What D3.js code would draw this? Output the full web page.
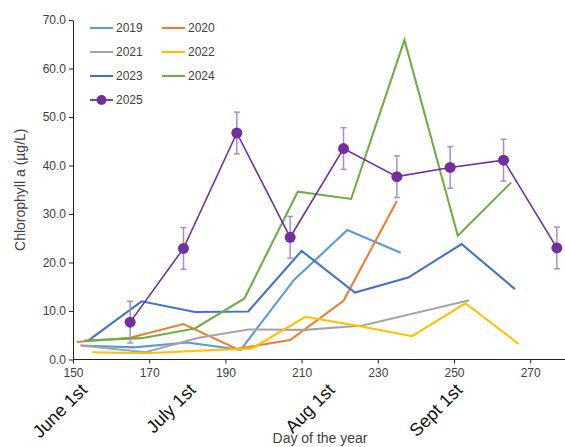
<!DOCTYPE html>
<html>
<head>
<meta charset="utf-8">
<script src="https://cdn.jsdelivr.net/npm/d3@7"></script>
<style>
  html, body { margin: 0; padding: 0; background: #fff; }
  svg { display: block; font-family: "Liberation Sans", Arial, sans-serif; }
</style>
</head>
<body>
<svg id="chart" width="565" height="447"></svg>
<script>
// ---- data (day of year, chlorophyll a µg/L) ----
const years = ["2019", "2020", "2021", "2022", "2023", "2024", "2025"];
const colors = ["#5B9BD5", "#ED7D31", "#A5A5A5", "#FFC000", "#4472C4", "#70AD47", "#7030A0"];

const days2019 = [152, 166, 180, 194, 208, 222, 236];
const vals2019 = [2.9, 2.5, 3.5, 2.0, 16.4, 26.7, 22.0];

const days2020 = [151, 165, 179, 193, 207, 221, 235];
const vals2020 = [3.6, 4.5, 7.3, 2.2, 4.0, 12.1, 32.7];

const days2021 = [152, 169, 183, 196, 211, 226, 254];
const vals2021 = [2.9, 1.5, 4.5, 6.2, 6.1, 7.0, 12.2];

const days2022 = [155, 169, 183, 197, 211, 225, 239, 253, 267];
const vals2022 = [1.5, 1.3, 1.8, 2.3, 8.8, 6.9, 4.8, 11.6, 3.2];

const days2023 = [154, 168, 182, 196, 210, 224, 238, 252, 266];
const vals2023 = [3.9, 12.0, 9.8, 9.9, 22.4, 13.8, 16.9, 23.8, 14.5];

const days2024 = [153, 168, 182, 195, 209, 223, 237, 251, 265];
const vals2024 = [3.9, 4.4, 6.4, 12.6, 34.6, 33.1, 65.9, 25.5, 36.5];

const days2025 = [165, 179, 193, 207, 221, 235, 249, 263, 277];
const vals2025 = [7.7, 22.9, 46.7, 25.2, 43.5, 37.7, 39.6, 41.1, 23.0];
const err2025  = [4.3, 4.3, 4.3, 4.3, 4.3, 4.3, 4.3, 4.3, 4.3];

const xTicks = [150, 170, 190, 210, 230, 250, 270];
const yTicks = [0, 10, 20, 30, 40, 50, 60, 70];

const monthLabels = ["June 1st", "July 1st", "Aug 1st", "Sept 1st"];
const monthLabelDays = [154, 182.5, 219, 252.5];

const yTitle = "Chlorophyll a (µg/L)";
const xTitle = "Day of the year";

// ---- layout ----
const svg = d3.select("#chart");
const textColor = "#404040";
const x = d3.scaleLinear().domain([150, 280]).range([73, 568.3]);
const y = d3.scaleLinear().domain([0, 70]).range([359.5, 20]);

const seriesDays = [days2019, days2020, days2021, days2022, days2023, days2024, days2025];
const seriesVals = [vals2019, vals2020, vals2021, vals2022, vals2023, vals2024, vals2025];
const series = years.map((yr, i) => ({
  year: yr, color: colors[i],
  pts: seriesDays[i].map((d, j) => ({ d, v: seriesVals[i][j], e: i === 6 ? err2025[j] : 0 }))
}));

// axes
const xAxis = d3.axisBottom(x).tickValues(xTicks).tickSize(4).tickSizeOuter(0).tickFormat(d3.format("d"));
const gx = svg.append("g").attr("transform", `translate(0,${y(0)})`).call(xAxis);
gx.select(".domain").attr("stroke", "#222").attr("d", `M${x(150)},0H565`);
gx.selectAll(".tick line").attr("stroke", "#222");
gx.selectAll(".tick text").attr("fill", textColor).attr("font-size", 12).attr("dy", "0.85em")
  .attr("font-family", "Liberation Sans, Arial, sans-serif");

const yAxis = d3.axisLeft(y).tickValues(yTicks).tickSize(4).tickSizeOuter(0).tickFormat(d3.format(".1f"));
const gy = svg.append("g").attr("transform", `translate(${x(150)},0)`).call(yAxis);
gy.select(".domain").attr("stroke", "#222");
gy.selectAll(".tick line").attr("stroke", "#222");
gy.selectAll(".tick text").attr("fill", textColor).attr("font-size", 12).attr("x", -7)
  .attr("font-family", "Liberation Sans, Arial, sans-serif");

// lines
const line = d3.line().x(p => x(p.d)).y(p => y(p.v));
const gLines = svg.append("g");
series.forEach((s, i) => {
  gLines.append("path").datum(s.pts)
    .attr("fill", "none").attr("stroke", s.color)
    .attr("stroke-width", i === 6 ? 1.6 : 2.1)
    .attr("stroke-linejoin", "miter")
    .attr("d", line);
});

// error bars + markers for 2025
const s25 = series[6];
const gErr = svg.append("g").attr("stroke", "#A98CCB").attr("stroke-width", 1.5);
s25.pts.forEach(p => {
  gErr.append("line").attr("x1", x(p.d)).attr("x2", x(p.d)).attr("y1", y(p.v - p.e)).attr("y2", y(p.v + p.e));
  gErr.append("line").attr("x1", x(p.d) - 3).attr("x2", x(p.d) + 3).attr("y1", y(p.v - p.e)).attr("y2", y(p.v - p.e));
  gErr.append("line").attr("x1", x(p.d) - 3).attr("x2", x(p.d) + 3).attr("y1", y(p.v + p.e)).attr("y2", y(p.v + p.e));
});
svg.append("g").selectAll("circle").data(s25.pts).join("circle")
  .attr("cx", p => x(p.d)).attr("cy", p => y(p.v)).attr("r", 5.5)
  .attr("fill", s25.color);

// legend
const leg = svg.append("g");
series.forEach((s, i) => {
  const col = i % 2, row = Math.floor(i / 2);
  const lx = 90 + col * 72, ly = 28 + row * 24;
  leg.append("line").attr("x1", lx).attr("x2", lx + 23).attr("y1", ly).attr("y2", ly)
    .attr("stroke", s.color).attr("stroke-width", i === 6 ? 1.8 : 2.1);
  if (i === 6) leg.append("circle").attr("cx", lx + 11.5).attr("cy", ly).attr("r", 5).attr("fill", s.color);
  leg.append("text").attr("x", lx + 26).attr("y", ly).attr("dy", "0.36em")
    .attr("font-size", 12).attr("fill", textColor).text(s.year);
});

// month labels (rotated)
monthLabels.forEach((t, i) => {
  const ax = x(monthLabelDays[i]), ay = 391;
  svg.append("text").attr("transform", `translate(${ax},${ay}) rotate(-45)`)
    .attr("text-anchor", "end").attr("font-size", 18).attr("fill", "#111").text(t);
});

// axis titles
svg.append("text").attr("transform", `translate(24.5,${(y(0) + y(70)) / 2}) rotate(-90)`)
  .attr("text-anchor", "middle").attr("font-size", 14).attr("fill", textColor).text(yTitle);
svg.append("text").attr("x", 320).attr("y", 443)
  .attr("text-anchor", "middle").attr("font-size", 14).attr("fill", textColor).text(xTitle);
</script>
</body>
</html>
